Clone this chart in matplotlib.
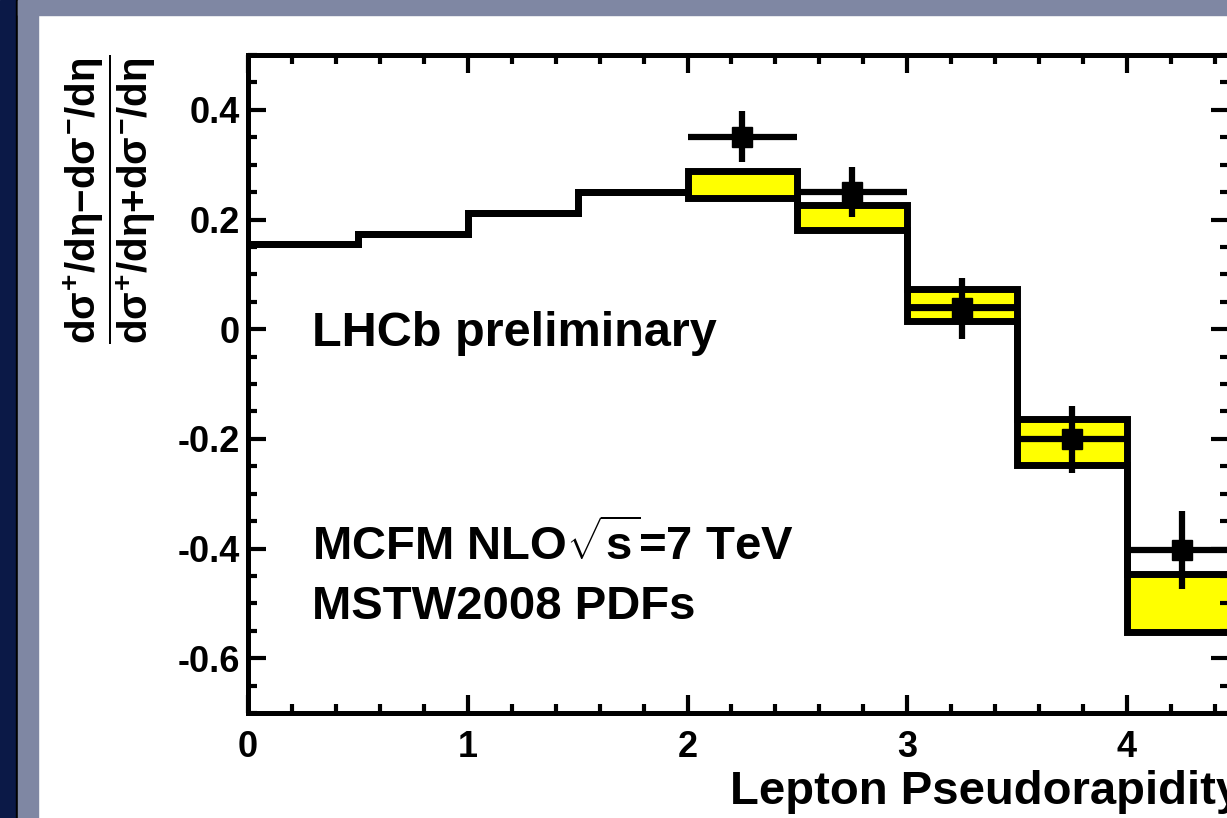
import numpy as np
import matplotlib
matplotlib.use("Agg")
import matplotlib.pyplot as plt
from matplotlib.patches import Rectangle
from matplotlib.ticker import MultipleLocator, FuncFormatter

# fonts: bold Helvetica-like everywhere, also inside mathtext
plt.rcParams['font.family'] = ['Liberation Sans', 'DejaVu Sans']
plt.rcParams['font.weight'] = 'bold'
plt.rcParams['axes.labelweight'] = 'bold'
plt.rcParams['mathtext.fontset'] = 'custom'
plt.rcParams['mathtext.rm'] = 'Liberation Sans:bold'
plt.rcParams['mathtext.it'] = 'Liberation Sans:bold'
plt.rcParams['mathtext.bf'] = 'Liberation Sans:bold'
plt.rcParams['mathtext.sf'] = 'Liberation Sans:bold'
plt.rcParams['axes.unicode_minus'] = False

# MCFM prediction (eta bins), lower / upper edge of band
bin_edges = [0, 0.5, 1.0, 1.5, 2.0, 2.5, 3.0, 3.5, 4.0, 4.5]
pred_low = [0.155, 0.174, 0.212, 0.250, 0.239, 0.181, 0.015, -0.247, -0.553]
pred_high = [0.155, 0.174, 0.212, 0.250, 0.289, 0.226, 0.073, -0.164, -0.446]
# central line drawn inside the band (only where visible)
pred_central = [np.nan, np.nan, np.nan, np.nan, np.nan, np.nan, 0.042, -0.199, np.nan]

# LHCb data points
data_eta = [2.25, 2.75, 3.25, 3.75, 4.25]
data_asym = [0.351, 0.250, 0.038, -0.201, -0.402]
data_err = [0.046, 0.045, 0.056, 0.061, 0.071]
data_binhalf = [0.25, 0.25, 0.25, 0.25, 0.25]

W, H = 1227, 818
fig = plt.figure(figsize=(W / 100, H / 100), dpi=100)
fig.patch.set_facecolor('white')

# slide frame
navy = '#0b1947'
grey = '#7f87a3'
fig.patches.append(Rectangle((0, 0), 16 / W, 1, transform=fig.transFigure, color=navy, zorder=0))
fig.patches.append(Rectangle((16 / W, 0), 2 / W, 1, transform=fig.transFigure, color='black', zorder=0))
fig.patches.append(Rectangle((18 / W, 0), 20 / W, 1, transform=fig.transFigure, color=grey, zorder=0))
fig.patches.append(Rectangle((18 / W, 1 - 15 / H), 1, 15 / H, transform=fig.transFigure, color=grey, zorder=0))

ax = fig.add_axes([248 / W, 105 / H, 981 / W, 658 / H])
ax.set_facecolor('white')

edges = np.array(bin_edges)
# yellow band
ax.stairs(pred_high, edges, baseline=pred_low, fill=True, color='#ffff00', zorder=1)
# black outline of band / histogram
ax.stairs(pred_high, edges, baseline=None, color='black', lw=5, zorder=2)
ax.stairs(pred_low, edges, baseline=None, color='black', lw=5, zorder=2)
ax.hlines(pred_central, edges[:-1], edges[1:], color='black', lw=3.5, zorder=2)

ax.errorbar(data_eta, data_asym, xerr=data_binhalf, yerr=data_err, fmt='s',
            color='black', ms=14, elinewidth=4.5, capsize=0, zorder=3)

ax.set_xlim(0, 4.464)
ax.set_ylim(-0.7, 0.5)

ax.xaxis.set_major_locator(MultipleLocator(1))
ax.xaxis.set_minor_locator(MultipleLocator(0.2))
ax.yaxis.set_major_locator(MultipleLocator(0.2))
ax.yaxis.set_minor_locator(MultipleLocator(0.05))
ax.yaxis.set_major_formatter(FuncFormatter(lambda v, p: '%g' % round(v, 3)))

ax.tick_params(which='both', direction='in', top=True, right=True, width=3, labelsize=26)
ax.tick_params(which='major', length=13)
ax.tick_params(which='minor', length=6.5)
ax.tick_params(axis='x', pad=12)
ax.tick_params(axis='y', pad=6)
for s in ax.spines.values():
    s.set_linewidth(3.6)

ax.set_ylabel(r'$\dfrac{d\sigma^{+}/d\eta{-}d\sigma^{-}/d\eta}{d\sigma^{+}/d\eta{+}d\sigma^{-}/d\eta}$',
              fontsize=29, loc='top')
ax.yaxis.set_label_coords(-0.092, 1.0)

ax.set_xlabel('Lepton Pseudorapidity', fontsize=34, ha='left', fontweight='bold')
ax.xaxis.set_label_coords(0.491, -0.087)

ax.text(0.29, -0.031, 'LHCb preliminary', fontsize=35, va='baseline')
ax.text(0.29, -0.422, r'MCFM NLO$\sqrt{s}$=7 TeV', fontsize=34, va='baseline')
ax.text(0.29, -0.528, 'MSTW2008 PDFs', fontsize=34, va='baseline')

plt.savefig('out.png', dpi=100)
